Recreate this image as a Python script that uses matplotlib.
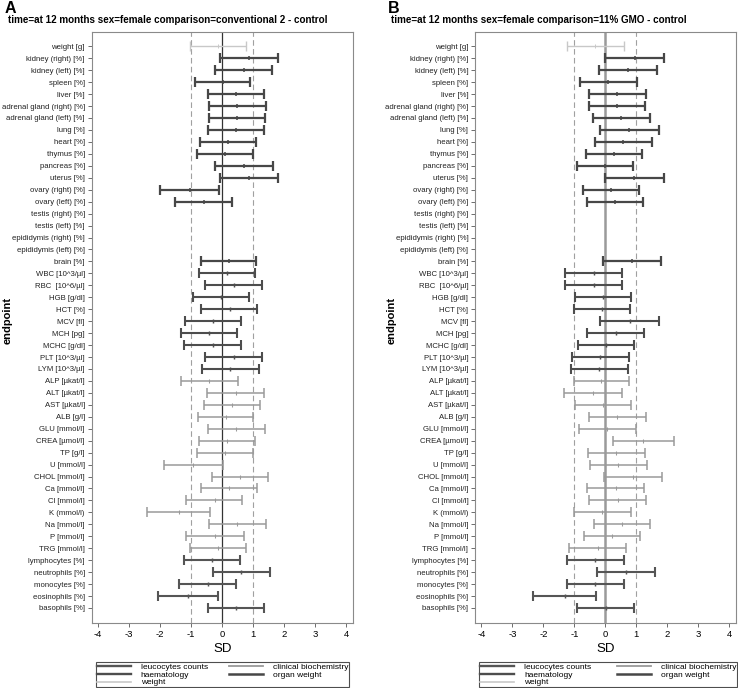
import numpy as np
import matplotlib
matplotlib.use('Agg')
import matplotlib.pyplot as plt
from matplotlib.lines import Line2D

plt.rcParams['font.family'] = ['Liberation Sans', 'DejaVu Sans']
plt.rcParams['axes.unicode_minus'] = False

# endpoints and their groups
endpoints = ['weight [g]', 'kidney (right) [%]', 'kidney (left) [%]', 'spleen [%]', 'liver [%]',
             'adrenal gland (right) [%]', 'adrenal gland (left) [%]', 'lung [%]', 'heart [%]',
             'thymus [%]', 'pancreas [%]', 'uterus [%]', 'ovary (right) [%]', 'ovary (left) [%]',
             'testis (right) [%]', 'testis (left) [%]', 'epididymis (right) [%]',
             'epididymis (left) [%]', 'brain [%]', 'WBC [10^3/µl]', 'RBC  [10^6/µl]', 'HGB [g/dl]',
             'HCT [%]', 'MCV [fl]', 'MCH [pg]', 'MCHC [g/dl]', 'PLT [10^3/µl]', 'LYM [10^3/µl]',
             'ALP [µkat/l]', 'ALT [µkat/l]', 'AST [µkat/l]', 'ALB [g/l]', 'GLU [mmol/l]',
             'CREA [µmol/l]', 'TP [g/l]', 'U [mmol/l]', 'CHOL [mmol/l]', 'Ca [mmol/l]',
             'Cl [mmol/l]', 'K (mmol/l)', 'Na [mmol/l]', 'P [mmol/l]', 'TRG [mmol/l]',
             'lymphocytes [%]', 'neutrophils [%]', 'monocytes [%]', 'eosinophils [%]',
             'basophils [%]']
groups = (['weight'] + ['organ weight'] * 18 + ['haematology'] * 9
          + ['clinical biochemistry'] * 15 + ['leucocytes counts'] * 5)

nan = np.nan
# panel A: conventional 2 - control
a_lo = [-1.02, -0.08, -0.24, -0.89, -0.47, -0.41, -0.43, -0.47, -0.71, -0.80,
        -0.24, -0.08, -1.99, -1.52, nan, nan, nan, nan, -0.69,
        -0.75, -0.54, -0.94, -0.68, -1.20, -1.33, -1.22, -0.54, -0.64,
        -1.32, -0.49, -0.60, -0.79, -0.46, -0.74, -0.80, -1.88, -0.34, -0.68, -1.15,
        -2.41, -0.44, -1.15, -1.04,
        -1.24, -0.31, -1.38, -2.08, -0.46]
a_est = [-0.13, 0.86, 0.69, 0.01, 0.44, 0.49, 0.47, 0.43, 0.19, 0.09,
         0.69, 0.86, -1.05, -0.60, nan, nan, nan, nan, 0.23,
         0.14, 0.38, -0.05, 0.24, -0.29, -0.42, -0.31, 0.38, 0.26,
         -0.41, 0.43, 0.32, 0.11, 0.45, 0.17, 0.10, -0.95, 0.57, 0.23, -0.24,
         -1.39, 0.49, -0.23, -0.13,
         -0.33, 0.61, -0.47, -1.09, 0.45]
a_hi = [0.78, 1.80, 1.61, 0.91, 1.34, 1.40, 1.39, 1.34, 1.09, 1.00,
        1.62, 1.80, -0.09, 0.32, nan, nan, nan, nan, 1.10,
        1.04, 1.29, 0.86, 1.11, 0.60, 0.48, 0.59, 1.29, 1.17,
        0.50, 1.35, 1.23, 1.00, 1.37, 1.06, 1.00, 0.02, 1.49, 1.13, 0.65,
        -0.39, 1.40, 0.69, 0.77,
        0.58, 1.53, 0.44, -0.13, 1.35]

# panel B: 11% GMO - control
b_lo = [-1.25, -0.01, -0.21, -0.83, -0.54, -0.54, -0.41, -0.17, -0.35, -0.64,
        -0.92, -0.02, -0.72, -0.59, nan, nan, nan, nan, -0.09,
        -1.30, -1.29, -0.99, -1.01, -0.16, -0.59, -0.88, -1.07, -1.10,
        -1.02, -1.34, -0.99, -0.54, -0.85, 0.25, -0.55, -0.50, -0.05, -0.58, -0.52,
        -1.00, -0.37, -0.69, -1.17,
        -1.25, -0.26, -1.25, -2.35, -0.90]
b_est = [-0.33, 0.97, 0.73, 0.10, 0.38, 0.38, 0.51, 0.76, 0.58, 0.27,
         -0.01, 0.92, 0.18, 0.30, nan, nan, nan, nan, 0.86,
         -0.38, -0.37, -0.08, -0.12, 0.79, 0.33, 0.03, -0.17, -0.20,
         -0.13, -0.40, -0.08, 0.38, 0.04, 1.23, 0.36, 0.41, 0.89, 0.35, 0.40,
         -0.10, 0.54, 0.21, -0.25,
         -0.33, 0.68, -0.33, -1.31, 0.01]
b_hi = [0.60, 1.91, 1.66, 1.01, 1.30, 1.29, 1.43, 1.72, 1.51, 1.17,
        0.89, 1.90, 1.10, 1.23, nan, nan, nan, nan, 1.81,
        0.53, 0.54, 0.84, 0.79, 1.73, 1.25, 0.94, 0.75, 0.73,
        0.78, 0.53, 0.84, 1.30, 0.98, 2.23, 1.28, 1.34, 1.83, 1.26, 1.31,
        0.83, 1.45, 1.13, 0.66,
        0.60, 1.62, 0.61, -0.31, 0.92]

legend_order = ['leucocytes counts', 'haematology', 'weight', 'clinical biochemistry', 'organ weight']
colors = {'weight': '#c8c8c8', 'organ weight': '#474747', 'haematology': '#4d4d4d',
          'clinical biochemistry': '#9a9a9a', 'leucocytes counts': '#555555'}
widths = {'weight': 1.0, 'organ weight': 1.6, 'haematology': 1.5,
          'clinical biochemistry': 1.1, 'leucocytes counts': 1.5}

W, H = 738, 688
fig = plt.figure(figsize=(W / 100, H / 100), dpi=100)


def panel(left, right, lo, est, hi, letter, title, zero_color, zero_lw, leg_box):
    ax = fig.add_axes([left / W, 1 - 622.7 / H, (right - left) / W, (622.7 - 32.3) / H])
    y = np.arange(len(endpoints))
    lo, est, hi = np.array(lo), np.array(est), np.array(hi)
    ax.axvline(0, color=zero_color, lw=zero_lw, zorder=1)
    for v in (-1, 1):
        ax.axvline(v, color='#a0a0a0', lw=0.8, ls=(0, (5, 3)), zorder=1)
    for g in legend_order:
        m = np.array([gg == g for gg in groups]) & ~np.isnan(est)
        ax.errorbar(est[m], y[m], xerr=[est[m] - lo[m], hi[m] - est[m]], fmt='none',
                    ecolor=colors[g], elinewidth=widths[g], capsize=3.4,
                    capthick=widths[g], zorder=3)
        ax.plot(est[m], y[m], ls='none', marker='|', ms=3, mew=widths[g] * 0.7,
                color=colors[g], zorder=4)
    ax.set_yticks(y)
    ax.set_yticklabels(endpoints, fontsize=5.6, color='#222222')
    ax.set_ylim(len(endpoints) - 1 + 1.23, -1.17)
    ax.set_xlim(-4.2, 4.22)
    ax.set_xticks(range(-4, 5))
    ax.tick_params(axis='both', length=3, width=0.6, color='#555555', pad=2)
    ax.tick_params(axis='x', labelsize=6.8)
    for s in ax.spines.values():
        s.set_color('#8a8a8a')
        s.set_linewidth(0.8)
    ax.set_xlabel('SD', fontsize=9.5, labelpad=3)
    fig.text((left - 87) / W, 1 - 1 / H, letter, fontsize=11.5, fontweight='bold', va='top')
    fig.text((left - 84) / W, 1 - 20 / H, title, fontsize=7.1, fontweight='bold', va='center')
    fig.text((left - 84) / W, 1 - 320 / H, 'endpoint', fontsize=8, fontweight='bold',
             rotation=90, va='center', ha='center')
    handles = [Line2D([], [], color=colors[g], lw=widths[g] + 0.2) for g in legend_order]
    x0, x1 = leg_box
    leg = ax.legend(handles, legend_order, loc='lower left', mode='expand', ncol=2,
                    bbox_to_anchor=(x0 / W, 1 - 687.3 / H, (x1 - x0) / W, 26.6 / H),
                    bbox_transform=fig.transFigure, fontsize=6.0, frameon=True,
                    fancybox=False, borderpad=0.1, labelspacing=0.0,
                    handlelength=4.1, handletextpad=1.2, columnspacing=2.0,
                    borderaxespad=0)
    leg.get_frame().set_edgecolor('#222222')
    leg.get_frame().set_linewidth(0.8)
    return ax


panel(91.7, 353.3, a_lo, a_est, a_hi, 'A',
      'time=at 12 months sex=female comparison=conventional 2 - control',
      '#333333', 0.9, (95.7, 349.3))
panel(475.3, 736.0, b_lo, b_est, b_hi, 'B',
      'time=at 12 months sex=female comparison=11% GMO - control',
      '#9a9a9a', 1.8, (479.0, 737.0))

fig.savefig('out.png', dpi=100)
